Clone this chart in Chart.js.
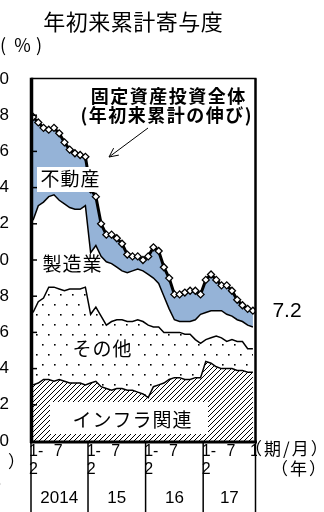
<!DOCTYPE html>
<html lang="ja">
<head>
<meta charset="UTF-8">
<title>年初来累計寄与度</title>
<script src="https://cdn.jsdelivr.net/npm/chart.js"></script>
<style>
    html, body { margin: 0; padding: 0; background: #fff; overflow: hidden; width: 324px; height: 512px; }
    #wrap { position: absolute; left: -20px; top: 0; width: 344px; height: 512px; }
</style>
</head>
<body>
<div id="wrap"><canvas id="chart" width="344" height="512"></canvas></div>
<script>
// 2014/1-2 ... 2017/1-11 (year-to-date)
const periods = [
    '2014/1-2','2014/3','2014/4','2014/5','2014/6','2014/7','2014/8','2014/9','2014/10','2014/11','2014/12',
    '2015/1-2','2015/3','2015/4','2015/5','2015/6','2015/7','2015/8','2015/9','2015/10','2015/11','2015/12',
    '2016/1-2','2016/3','2016/4','2016/5','2016/6','2016/7','2016/8','2016/9','2016/10','2016/11','2016/12',
    '2017/1-2','2017/3','2017/4','2017/5','2017/6','2017/7','2017/8','2017/9','2017/10','2017/11'
];
// cumulative levels of the stacked areas (%)
const infraTop = [3.1,3.2,3.4,3.4,3.3,3.4,3.3,3.2,3.2,3.2,3.1, 3.2,3.3,3.0,2.9,2.8,2.9,2.9,2.8,2.8,2.7,2.6,
                  2.4,3.0,3.1,3.2,3.4,3.5,3.5,3.4,3.4,3.5,3.5, 4.4,4.3,4.1,4.0,4.0,4.0,3.9,3.9,3.8,3.8];
const otherTop = [7.1,7.7,7.9,8.5,8.5,8.4,8.3,8.4,8.4,8.4,8.5, 7.0,7.4,6.9,6.4,6.6,6.7,6.7,6.6,6.6,6.7,6.6,
                  6.4,6.3,6.3,6.0,6.0,6.0,6.0,5.9,5.9,5.6,5.4, 5.6,5.7,5.8,5.7,5.5,5.6,5.5,5.5,5.1,5.1];
const mfgTop   = [12.2,13.0,13.2,13.5,13.6,13.3,13.1,12.9,12.8,12.8,13.0, 10.4,10.8,10.2,9.9,9.8,9.6,9.4,9.3,9.4,9.5,9.4,
                  9.2,9.0,8.7,8.0,7.3,6.7,6.6,6.6,6.6,6.7,7.0, 7.1,7.2,7.2,7.2,7.0,6.9,6.7,6.6,6.4,6.3];
// fixed asset investment, total (ytd growth)
const total    = [17.9,17.6,17.3,17.2,17.3,17.0,16.5,16.1,15.9,15.8,15.7, 13.9,13.5,12.0,11.4,11.4,11.2,10.9,10.3,10.2,10.2,10.0,
                  10.2,10.7,10.5,9.6,9.0,8.1,8.1,8.2,8.3,8.3,8.1, 8.9,9.2,8.9,8.6,8.6,8.3,7.8,7.5,7.3,7.2];

const tickIdx = [0, 5, 11, 16, 22, 27, 33, 38, 42];
const tickText = ['1-2', '7', '1-2', '7', '1-2', '7', '1-2', '7', '11'];
const years = ['2014', '15', '16', '17'];
const yearFirst = [0, 11, 22, 33];
const yearLast = [10, 21, 32, 42];

const OX = 20;
const JP = "'Noto Sans CJK JP', sans-serif";
const EN = "'Liberation Sans', Arial, sans-serif";

function hatchPattern() {
    const c = document.createElement('canvas');
    c.width = 5; c.height = 5;
    const g = c.getContext('2d');
    g.fillStyle = '#fff';
    g.fillRect(0, 0, 5, 5);
    g.strokeStyle = '#000';
    g.lineWidth = 1;
    g.beginPath();
    g.moveTo(-1, 6); g.lineTo(6, -1);
    g.moveTo(-1, 1); g.lineTo(1, -1);
    g.moveTo(4, 6); g.lineTo(6, 4);
    g.stroke();
    return g.createPattern(c, 'repeat');
}

function dotPattern() {
    const c = document.createElement('canvas');
    c.width = 12; c.height = 20;
    const g = c.getContext('2d');
    g.fillStyle = '#fff';
    g.fillRect(0, 0, 12, 20);
    g.fillStyle = '#000';
    g.fillRect(2, 4, 1.6, 1.6);
    g.fillRect(8, 14, 1.6, 1.6);
    return g.createPattern(c, 'repeat');
}

const pts = arr => arr.map((v, i) => ({ x: i, y: v }));

function line(ctx, x1, y1, x2, y2, w) {
    ctx.lineWidth = w;
    ctx.beginPath();
    ctx.moveTo(x1, y1);
    ctx.lineTo(x2, y2);
    ctx.stroke();
}

function label(ctx, text, cx, cy, font, spacing, box) {
    ctx.font = font;
    ctx.letterSpacing = spacing + 'px';
    const w = ctx.measureText(text).width - spacing;
    if (box) {
        ctx.fillStyle = '#fff';
        ctx.fillRect(box[0], box[1], box[2] - box[0], box[3] - box[1]);
    }
    ctx.fillStyle = '#000';
    ctx.textAlign = 'left';
    ctx.textBaseline = 'middle';
    ctx.fillText(text, cx - w / 2, cy);
    ctx.letterSpacing = '0px';
}

const decor = {
    id: 'decor',
    afterDraw(chart) {
        const ctx = chart.ctx;
        const xs = chart.scales.x, ys = chart.scales.y;
        const px = i => xs.getPixelForValue(i) - OX;
        const py = v => ys.getPixelForValue(v);
        ctx.save();
        ctx.translate(OX, 0);
        ctx.strokeStyle = '#000';

        // frame
        const top = py(20) - 0.5, bot = py(0) + 1;
        line(ctx, 31, top, 256.5, top, 1.5);
        line(ctx, 255.5, top, 255.5, bot, 2.5);
        line(ctx, 30, bot, 257, bot, 3);
        line(ctx, 31.5, top - 0.75, 31.5, bot + 1, 3.5);
        for (const t of ys.ticks) {
            if (t.value > 0 && t.value < 20) line(ctx, 33, py(t.value), 37, py(t.value), 1.5);
        }

        // year separators
        line(ctx, 31, bot, 31, 512, 1.5);
        for (let k = 1; k < years.length; k++) {
            const sx = (px(yearLast[k - 1]) + px(yearFirst[k])) / 2;
            line(ctx, sx, bot, sx, 512, 1.5);
        }
        line(ctx, 255.5, bot, 255.5, 512, 1.5);

        // month labels
        ctx.fillStyle = '#000';
        ctx.font = '16px ' + EN;
        ctx.textBaseline = 'middle';
        tickIdx.forEach((idx, k) => {
            const t = tickText[k];
            const x = px(idx);
            if (t.includes('-')) {
                const parts = t.split('-');
                ctx.textAlign = 'left';
                ctx.fillText(parts[0] + '-', x - 4, 452);
                ctx.fillText(parts[1], x - 4, 470);
            } else if (idx === tickIdx[tickIdx.length - 1]) {
                ctx.textAlign = 'left';
                ctx.fillText(t, x - 3, 452);
            } else {
                ctx.textAlign = 'center';
                ctx.fillText(t, x - 1, 452);
            }
        });
        ctx.font = '17px ' + EN;
        ctx.textAlign = 'center';
        years.forEach((yr, k) => {
            ctx.fillText(yr, (px(yearFirst[k]) + px(yearLast[k])) / 2, 498);
        });

        // axis units
        ctx.font = '17px ' + JP;
        ctx.letterSpacing = '2px';
        ctx.textAlign = 'left';
        ctx.fillStyle = '#fff';
        ctx.fillRect(257, 440, 70, 18);
        ctx.fillStyle = '#000';
        ctx.fillText('（期/月）', 245, 449);
        ctx.fillText('（年）', 271, 469);
        // cut-off units of the neighbouring panel
        ctx.textAlign = 'right';
        ctx.fillText('（期/月', -4, 462);
        ctx.fillText('（年', -8, 485);
        ctx.textAlign = 'left';
        ctx.fillText('）', 8, 462);
        ctx.fillText('）', -5, 485);
        ctx.letterSpacing = '0px';

        ctx.font = '18px ' + JP;
        ctx.textAlign = 'center';
        ctx.fillText('(', 3, 45);
        ctx.fillText('％', 22.5, 45);
        ctx.fillText(')', 39, 45);

        // title
        label(ctx, '年初来累計寄与度', 133, 22, '22px ' + JP, 0.5);

        // series labels
        label(ctx, '不動産', 70, 179, '19px ' + JP, 1, [37, 167, 104, 192]);
        label(ctx, '製造業', 72, 264, '19px ' + JP, 1);
        label(ctx, 'その他', 102, 349, '19px ' + JP, 1, [68, 338, 136, 361]);
        label(ctx, 'インフラ関連', 132, 420, '19px ' + JP, 1, [50, 402, 208, 434]);
        label(ctx, '7.2', 287, 311, '21px ' + EN, 0);

        // annotation
        label(ctx, '固定資産投資全体', 168, 96, 'bold 18px ' + JP, 1.5);
        label(ctx, '(年初来累計の伸び)', 166, 115, 'bold 18px ' + JP, 1.5);
        const ax1 = 148, ay1 = 128, ax2 = 109, ay2 = 157;
        line(ctx, ax1, ay1, ax2, ay2, 1);
        const ang = Math.atan2(ay1 - ay2, ax1 - ax2);
        for (const d of [-0.45, 0.45]) {
            line(ctx, ax2, ay2, ax2 + 10 * Math.cos(ang + d), ay2 + 10 * Math.sin(ang + d), 1);
        }
        ctx.restore();
    }
};

const ctx = document.getElementById('chart').getContext('2d');
const lineBase = { borderColor: '#000', borderWidth: 1.5, pointRadius: 0, tension: 0, order: 1 };

new Chart(ctx, {
    type: 'line',
    data: {
        labels: periods,
        datasets: [
            { ...lineBase, label: 'インフラ関連', data: pts(infraTop), fill: 'origin', backgroundColor: hatchPattern() },
            { ...lineBase, label: 'その他', data: pts(otherTop), fill: '-1', backgroundColor: dotPattern() },
            { ...lineBase, label: '製造業', data: pts(mfgTop), fill: '-1', backgroundColor: '#fff' },
            {
                label: '固定資産投資全体', data: pts(total), fill: '-1', backgroundColor: '#95B3D7',
                borderColor: '#000', borderWidth: 3, tension: 0, order: 0,
                pointStyle: 'rectRot', pointRadius: 3.5, pointBackgroundColor: '#fff',
                pointBorderColor: '#000', pointBorderWidth: 1.3
            }
        ]
    },
    options: {
        responsive: false,
        devicePixelRatio: 1,
        animation: false,
        layout: { padding: { top: 79, right: 69, bottom: 71, left: 0 } },
        plugins: {
            legend: { display: false },
            tooltip: { enabled: false },
            filler: { drawTime: 'beforeDatasetsDraw' }
        },
        scales: {
            x: { type: 'linear', min: -0.2, max: 42.4, display: false },
            y: {
                min: 0, max: 20,
                grid: { display: false, drawTicks: false },
                border: { display: false },
                ticks: { stepSize: 2, padding: 23, color: '#000', font: { family: 'Liberation Sans', size: 17 } },
                afterFit: s => { s.width = 52; }
            }
        }
    },
    plugins: [decor]
});
</script>
</body>
</html>
